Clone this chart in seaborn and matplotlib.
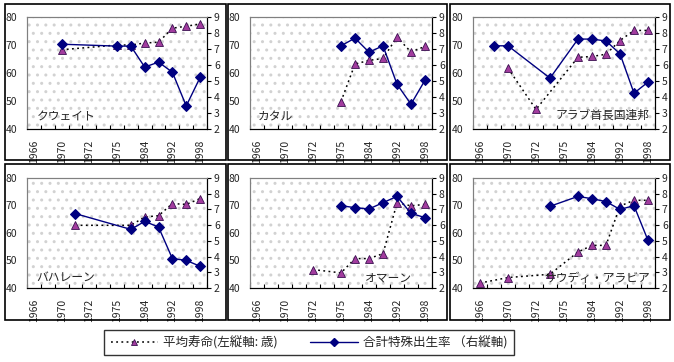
import numpy as np
import pandas as pd
import matplotlib
matplotlib.use("Agg")
import matplotlib.pyplot as plt
import seaborn as sns
from matplotlib.lines import Line2D
from matplotlib.patches import Rectangle

nan = np.nan

years = ["1966", "1968", "1970", "1971", "1972", "1974", "1975",
         "1980", "1984", "1988", "1992", "1995", "1998"]

countries = ["クウェイト", "カタル", "アラブ首長国連邦",
             "バハレーン", "オマーン", "サウディ・アラビア"]

life_kuwait = [nan, nan, 68.3, nan, nan, nan, 70.0, 70.0, 70.7, 71.0, 76.0, 76.7, 77.5]
tfr_kuwait = [nan, nan, 7.3, nan, nan, nan, 7.18, 7.18, 5.87, 6.18, 5.55, 3.44, 5.22]

life_qatar = [nan, nan, nan, nan, nan, nan, 49.8, 63.2, 64.5, 65.2, 72.8, 67.5, 69.5]
tfr_qatar = [nan, nan, nan, nan, nan, nan, 7.2, 7.68, 6.8, 7.2, 4.8, 3.55, 5.05]

life_uae = [nan, nan, 61.7, nan, 47.0, nan, nan, 65.6, 65.9, 66.7, 71.6, 75.2, 75.2]
tfr_uae = [nan, 7.2, 7.2, nan, nan, 5.18, nan, 7.62, 7.62, 7.5, 6.7, 4.24, 4.93]

life_bahrain = [nan, nan, nan, 62.8, nan, nan, nan, 62.8, 65.8, 66.3, 70.7, 70.4, 72.5]
tfr_bahrain = [nan, nan, nan, 6.73, nan, nan, nan, 5.73, 6.24, 5.88, 3.87, 3.76, 3.38]

life_oman = [nan, nan, nan, nan, 46.7, nan, 45.5, 50.7, 50.7, 52.5, 70.9, 69.9, 70.4]
tfr_oman = [nan, nan, nan, nan, nan, nan, 7.24, 7.11, 7.03, 7.43, 7.83, 6.75, 6.48]

life_saudi = [41.8, nan, 43.8, nan, nan, 45.0, nan, 53.1, 55.5, 55.5, 69.8, 71.9, 71.9]
tfr_saudi = [nan, nan, nan, nan, nan, 7.2, nan, 7.83, 7.68, 7.5, 7.0, 7.24, 5.03]

life_all = [life_kuwait, life_qatar, life_uae, life_bahrain, life_oman, life_saudi]
tfr_all = [tfr_kuwait, tfr_qatar, tfr_uae, tfr_bahrain, tfr_oman, tfr_saudi]

label_life = "平均寿命(左縦軸: 歳)"
label_tfr = "合計特殊出生率 （右縦軸)"

sns.set_theme(style="white")
plt.rcParams["font.family"] = ["Noto Sans CJK JP", "DejaVu Sans"]

W, H = 674, 362
fig = plt.figure(figsize=(W / 100, H / 100), dpi=100)

col_x = [(27, 207), (250, 432), (473, 655)]
row_y = [(17, 129), (178, 288)]
box_x = [(5, 226), (228, 447), (450, 670)]
box_y = [(4, 160), (164, 320)]

# where the country name goes (axes fraction) and its alignment
name_pos = [(0.055, 0.11, "left"), (0.04, 0.11, "left"), (0.97, 0.12, "right"),
            (0.05, 0.10, "left"), (0.89, 0.09, "right"), (0.97, 0.09, "right")]

purple = "#a23c9e"
navy = "#000080"
gray = "#808080"
tick_font = 7.5

for i in range(6):
    r, c = divmod(i, 3)

    # outer frame of each small chart
    bx0, bx1 = box_x[c]
    by0, by1 = box_y[r]
    fig.patches.append(Rectangle((bx0 / W, 1 - by1 / H), (bx1 - bx0) / W, (by1 - by0) / H,
                                 transform=fig.transFigure, fill=False,
                                 edgecolor="black", linewidth=1.2))

    x0, x1 = col_x[c]
    y0, y1 = row_y[r]
    ax = fig.add_axes([x0 / W, 1 - y1 / H, (x1 - x0) / W, (y1 - y0) / H])
    ax.set_facecolor("white")
    ax.add_patch(Rectangle((0, 0), 1, 1, transform=ax.transAxes, facecolor="white",
                           hatch="..", edgecolor="#d2d2d2", linewidth=0, zorder=0))

    df = pd.DataFrame({"x": range(len(years)), "life": life_all[i], "tfr": tfr_all[i]})
    d_life = df.dropna(subset=["life"])
    d_tfr = df.dropna(subset=["tfr"])

    sns.lineplot(data=d_life, x="x", y="life", ax=ax, color="black",
                 linestyle=(0, (1.2, 2.2)), linewidth=1.1, marker="^", markersize=6,
                 markerfacecolor=purple, markeredgecolor="#3a1050",
                 markeredgewidth=0.6, sort=False, zorder=3)

    ax2 = ax.twinx()
    sns.lineplot(data=d_tfr, x="x", y="tfr", ax=ax2, color=navy, linewidth=1.0,
                 marker="D", markersize=4.6, markerfacecolor=navy,
                 markeredgecolor=navy, sort=False, zorder=4)

    ax.set_xlim(-0.5, len(years) - 0.5)
    ax.set_ylim(40, 80)
    ax2.set_ylim(2, 9)
    ax.set_yticks([40, 50, 60, 70, 80])
    ax2.set_yticks(range(2, 10))

    ax.set_xticks(range(0, len(years), 2))
    ax.set_xticklabels(years[::2], rotation=90, fontsize=tick_font)
    ax.set_xticks(np.arange(-0.5, len(years), 1), minor=True)
    ax.tick_params(axis="x", which="major", length=0, pad=8)
    ax.tick_params(axis="x", which="minor", direction="in", length=3,
                   width=0.8, color="black", bottom=True)
    ax.tick_params(axis="y", length=0, pad=7, labelsize=tick_font)
    ax2.tick_params(axis="y", direction="out", length=3, width=0.8,
                    color="black", pad=2, labelsize=tick_font)

    ax.set_xlabel("")
    ax.set_ylabel("")
    ax2.set_ylabel("")

    for a in (ax, ax2):
        a.spines["top"].set_color(gray)
        a.spines["left"].set_color(gray)
        a.spines["bottom"].set_color("black")
        a.spines["right"].set_color("black")
        for s in a.spines.values():
            s.set_linewidth(0.8)

    nx, ny, ha = name_pos[i]
    ax2.text(nx, ny, countries[i], transform=ax.transAxes, ha=ha, va="center",
             fontsize=8.5, zorder=6)

handles = [
    Line2D([], [], color="black", linestyle=(0, (1.2, 2.2)), linewidth=1.1,
           marker="^", markersize=5, markerfacecolor=purple,
           markeredgecolor="#3a1050", markeredgewidth=0.6),
    Line2D([], [], color=navy, linewidth=1.0, marker="D", markersize=4,
           markerfacecolor=navy, markeredgecolor=navy),
]
leg = fig.legend(handles, [label_life, label_tfr], loc="center",
                 bbox_to_anchor=(309 / W, 1 - 342.5 / H), ncol=2, fontsize=9,
                 frameon=True, fancybox=False, edgecolor="black",
                 handlelength=3.8, columnspacing=2.6, handletextpad=0.4,
                 borderpad=0.5)
leg.get_frame().set_linewidth(1.0)

fig.savefig("out.png", dpi=100)
